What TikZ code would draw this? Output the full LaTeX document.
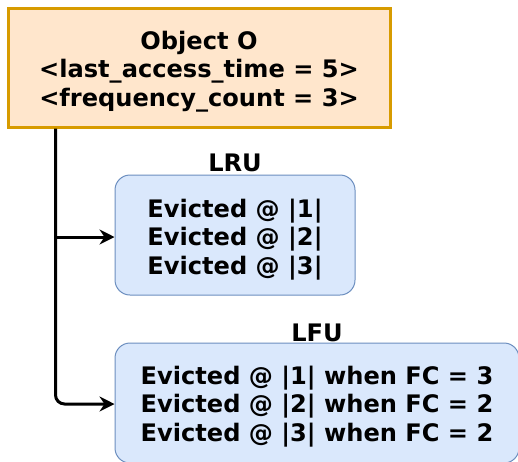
\documentclass[tikz,border=0pt]{standalone}
\usepackage{fontspec}
\setmainfont{DejaVu Sans}
\usetikzlibrary{arrows.meta,calc}
\definecolor{objfill}{HTML}{FFE6CC}
\definecolor{objline}{HTML}{D79B00}
\definecolor{polfill}{HTML}{DAE8FC}
\definecolor{polline}{HTML}{6C8EBF}
\tikzset{
  txt/.style={font=\bfseries\fontsize{24.1}{28.5}\selectfont, align=center, inner sep=0pt},
  objbox/.style={draw=objline, fill=objfill, line width=3pt, minimum width=382pt, minimum height=119pt},
  polbox/.style={draw=polline, fill=polfill, line width=1pt, rounded corners=15pt, minimum height=120pt},
  caption/.style={font=\bfseries\fontsize{24.1}{28}\selectfont, inner sep=0pt},
  link/.style={line width=3pt, -{Stealth[length=15pt,width=15pt,inset=5pt]}, rounded corners=9pt}
}
\begin{document}
\begin{tikzpicture}[x=1pt,y=-1pt]
  \useasboundingbox (0,0) rectangle (518,461);
  \clip (0,0) rectangle (518,461);
  % source object
  \node[objbox] (obj) at (199,67.5) {};
  \node[txt] (objtxt) at (199,71.5) {Object O\\<last\_access\_time = 5>\\<frequency\_count = 3>};
  % eviction policies
  \node[polbox, minimum width=240pt] (lru) at (235,235) {};
  \node[txt] (lrutxt) at (235,239.5) {Evicted @ |1|\\Evicted @ |2|\\Evicted @ |3|};
  \node[caption] (lrucap) at (235,163) {LRU};
  \node[polbox, minimum width=404pt] (lfu) at (317,403) {};
  \node[txt] (lfutxt) at (317,406.5) {Evicted @ |1| when FC = 3\\Evicted @ |2| when FC = 2\\Evicted @ |3| when FC = 2};
  \node[caption] (lfucap) at (317,333) {LFU};
  % connectors
  \coordinate (trunk) at ($(obj.south west)+(49,0)$);
  \draw[link] (trunk) -- (trunk |- 0,404) -- (lfu.west |- 0,404);
  \draw[link] (trunk |- 0,237) -- (lru.west |- 0,237);
\end{tikzpicture}
\end{document}
